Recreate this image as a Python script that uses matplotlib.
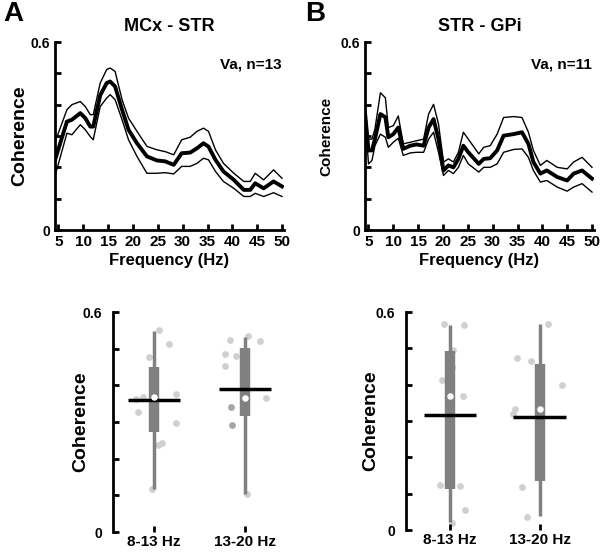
import matplotlib
matplotlib.use("Agg")
import matplotlib.pyplot as plt

plt.rcParams["font.family"] = ["Liberation Sans", "DejaVu Sans"]
plt.rcParams["font.weight"] = "bold"

# ── spectra (mean and ±SEM), panel A: MCx - STR
freq_a = [4, 6.7, 7.7, 9.4, 10.4, 11.4, 12, 13.4, 14.7, 15.4, 16.4, 17.8, 19.1,
          20.8, 22.8, 24.8, 26.5, 28.2, 29.8, 31.5, 32.9, 34.2, 35.2, 36.6,
          38.2, 40.3, 42.3, 43.6, 44.6, 46.3, 48.3, 50]
mean_a = [0.208, 0.346, 0.352, 0.373, 0.357, 0.33, 0.33, 0.43, 0.469, 0.474,
          0.458, 0.384, 0.32, 0.277, 0.235, 0.222, 0.219, 0.208, 0.245, 0.247,
          0.261, 0.277, 0.266, 0.224, 0.187, 0.16, 0.128, 0.128, 0.149, 0.133,
          0.155, 0.139]
upper_a = [0.267, 0.384, 0.40, 0.41, 0.394, 0.368, 0.368, 0.469, 0.512, 0.517,
           0.506, 0.416, 0.357, 0.315, 0.267, 0.256, 0.25, 0.24, 0.288, 0.296,
           0.315, 0.325, 0.315, 0.256, 0.213, 0.181, 0.155, 0.155, 0.181, 0.16,
           0.192, 0.165]
lower_a = [0.155, 0.309, 0.304, 0.336, 0.32, 0.298, 0.288, 0.394, 0.421, 0.432,
           0.416, 0.352, 0.288, 0.235, 0.181, 0.181, 0.183, 0.179, 0.203, 0.203,
           0.213, 0.229, 0.224, 0.187, 0.155, 0.133, 0.107, 0.107, 0.117, 0.107,
           0.119, 0.107]

# panel B: STR - GPi
freq_b = [4.3, 5, 5.7, 6.3, 7.4, 8.4, 9, 10, 11, 12, 13.4, 14.7, 16.1, 17.1,
          18.1, 19.1, 20.1, 21.1, 22.1, 23.1, 24.1, 25.1, 27.2, 28.2, 29.5,
          30.9, 32.2, 34.2, 35.9, 37.2, 38.2, 39.6, 40.9, 43, 45, 46.3, 48, 50]
mean_b = [0.375, 0.254, 0.254, 0.29, 0.37, 0.36, 0.296, 0.306, 0.327, 0.259,
          0.269, 0.273, 0.269, 0.327, 0.354, 0.29, 0.19, 0.206, 0.2, 0.227,
          0.269, 0.248, 0.211, 0.227, 0.229, 0.254, 0.301, 0.306, 0.312, 0.275,
          0.217, 0.18, 0.19, 0.169, 0.158, 0.18, 0.19, 0.164]
upper_b = [0.39, 0.29, 0.29, 0.322, 0.438, 0.422, 0.327, 0.333, 0.364, 0.275,
           0.28, 0.285, 0.29, 0.37, 0.401, 0.338, 0.217, 0.227, 0.217, 0.248,
           0.312, 0.29, 0.243, 0.264, 0.269, 0.306, 0.359, 0.362, 0.359, 0.312,
           0.254, 0.206, 0.222, 0.2, 0.195, 0.217, 0.232, 0.2]
lower_b = [0.37, 0.211, 0.222, 0.269, 0.306, 0.296, 0.264, 0.28, 0.293, 0.238,
           0.246, 0.248, 0.248, 0.29, 0.312, 0.248, 0.174, 0.19, 0.18, 0.2,
           0.238, 0.211, 0.185, 0.2, 0.2, 0.211, 0.248, 0.257, 0.259, 0.232,
           0.19, 0.153, 0.158, 0.137, 0.124, 0.137, 0.148, 0.121]

# ── band summaries (box: q1..q3, whisker: min..max, dot: median, bar: mean)
bands = ["8-13 Hz", "13-20 Hz"]
wlo_a, whi_a = [0.117, 0.103], [0.549, 0.533]
q1_a, q3_a = [0.274, 0.316], [0.45, 0.501]
med_a, avg_a = [0.367, 0.365], [0.359, 0.39]
wlo_b, whi_b = [0.021, 0.038], [0.565, 0.568]
q1_b, q3_b = [0.113, 0.136], [0.493, 0.458]
med_b, avg_b = [0.37, 0.332], [0.317, 0.311]

# individual sessions (x jitter position, coherence); last two of A are overlapping pairs
pts_a_x = [1.06, 1.16, 0.95, 0.80, 0.88, 0.83, 1.24, 1.24, 1.04, 1.09, 0.98,
           1.83, 2.03, 2.16, 1.78, 1.90, 1.78, 2.23, 2.01, 2.02]
pts_a_y = [0.551, 0.512, 0.476, 0.362, 0.367, 0.328, 0.377, 0.297, 0.237, 0.242, 0.117,
           0.524, 0.535, 0.52, 0.485, 0.48, 0.452, 0.365, 0.335, 0.103]
dark_a_x = [1.85, 1.86]
dark_a_y = [0.342, 0.293]
pts_b_x = [0.94, 1.16, 1.04, 1.03, 0.91, 1.15, 0.89, 1.12, 1.17, 1.03,
           2.09, 1.75, 1.90, 2.25, 1.73, 1.70, 2.01, 1.81, 1.86]
pts_b_y = [0.566, 0.565, 0.496, 0.449, 0.412, 0.37, 0.125, 0.122, 0.056, 0.019,
           0.568, 0.473, 0.465, 0.40, 0.332, 0.318, 0.168, 0.118, 0.037]

W, H = 600, 552
fig = plt.figure(figsize=(6, 5.52), dpi=100)


def box(l, t, r, b):
    return [l / W, 1 - b / H, (r - l) / W, (b - t) / H]


def style_spines(ax, bottom=True):
    for s in ["top", "right"]:
        ax.spines[s].set_visible(False)
    ax.spines["left"].set_linewidth(2)
    if bottom:
        ax.spines["bottom"].set_linewidth(2)
    else:
        ax.spines["bottom"].set_visible(False)
    ax.tick_params(direction="in", width=2, length=4, labelsize=11)


def spectrum(rect, f, m, up, lo, title, note, big_ylabel):
    ax = fig.add_axes(rect)
    ax.plot(f, up, color="black", lw=1)
    ax.plot(f, lo, color="black", lw=1)
    ax.plot(f, m, color="black", lw=2.8)
    ax.set_xlim(4.3, 50.4)
    ax.set_ylim(0, 0.6)
    ax.set_xticks(range(5, 51, 5))
    ax.set_yticks([0, 0.1, 0.2, 0.3, 0.4, 0.5, 0.6])
    ax.set_yticklabels(["0", "", "", "", "", "", "0.6"])
    style_spines(ax)
    ax.tick_params(axis="y", labelsize=10)
    ax.set_xlabel("Frequency (Hz)", fontsize=12, fontweight="bold", labelpad=3)
    if big_ylabel:
        ax.set_ylabel("Coherence", fontsize=14, fontweight="bold", labelpad=2)
    else:
        ax.set_ylabel("Coherence", fontsize=11, fontweight="bold", labelpad=5)
    ax.set_title(title, fontsize=13, fontweight="bold", pad=8)
    ax.text(0.99, 0.88, note, transform=ax.transAxes, ha="right", va="center",
            fontsize=11, fontweight="bold")
    return ax


def bands_panel(rect, xmin, wlo, whi, q1, q3, med, avg, px, py, lpad,
                dx=(), dy=()):
    ax = fig.add_axes(rect)
    ax.scatter(px, py, s=24, color="#d0d0d0", zorder=1, linewidths=0)
    if dx:
        ax.scatter(dx, dy, s=24, color="#a6a6a6", zorder=1, linewidths=0)
    x = [1, 2]
    ax.vlines(x, wlo, whi, color="#808080", lw=2.5, zorder=2)
    ax.vlines(x, q1, q3, color="#808080", lw=7.5, zorder=2)
    ax.hlines(avg, [v - 0.29 for v in x], [v + 0.29 for v in x],
              color="black", lw=2.5, zorder=3)
    ax.scatter(x, med, s=22, color="white", zorder=4, linewidths=0)
    ax.set_xlim(xmin, 2.45)
    ax.set_ylim(0, 0.6)
    ax.set_xticks(x)
    ax.set_xticklabels(bands, fontsize=11.5, fontweight="bold")
    ax.tick_params(axis="x", length=0, pad=2)
    ax.set_yticks([0, 0.1, 0.2, 0.3, 0.4, 0.5, 0.6])
    ax.set_yticklabels(["0", "", "", "", "", "", "0.6"])
    style_spines(ax, bottom=False)
    ax.tick_params(axis="y", labelsize=10, pad=8)
    ax.spines["left"].set_bounds(0, 0.6)
    ax.set_ylabel("Coherence", fontsize=14, fontweight="bold", labelpad=lpad)
    return ax


spectrum(box(55, 42, 284, 230), freq_a, mean_a, upper_a, lower_a,
         "MCx - STR", "Va, n=13", True)
spectrum(box(365, 42, 594, 230), freq_b, mean_b, upper_b, lower_b,
         "STR - GPi", "Va, n=11", False)

bands_panel(box(113, 312, 286, 532), 0.55, wlo_a, whi_a, q1_a, q3_a,
            med_a, avg_a, pts_a_x, pts_a_y, -5, dark_a_x, dark_a_y)
bands_panel(box(406, 312, 580, 530), 0.515, wlo_b, whi_b, q1_b, q3_b,
            med_b, avg_b, pts_b_x, pts_b_y, -3)

fig.text(3 / W, 1 - 14 / H, "A", fontsize=20, fontweight="bold", va="center")
fig.text(305 / W, 1 - 14 / H, "B", fontsize=20, fontweight="bold", va="center")

fig.savefig("out.png", dpi=100)
